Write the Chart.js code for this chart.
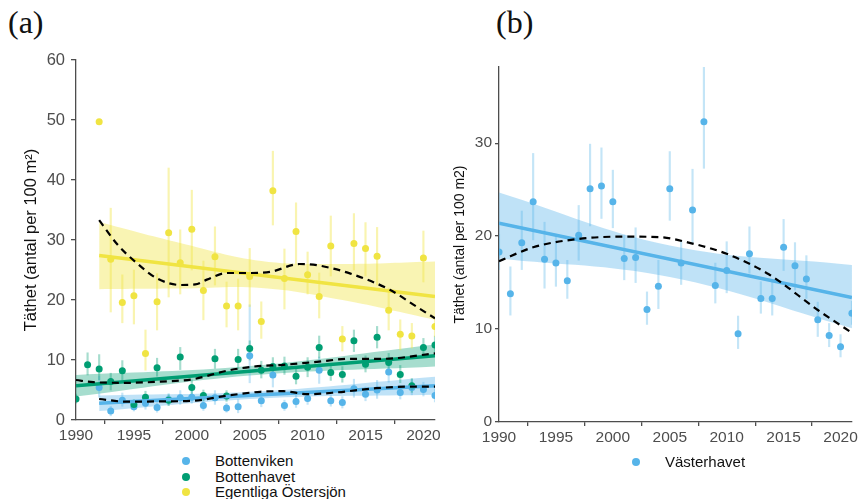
<!DOCTYPE html>
<html>
<head>
<meta charset="utf-8">
<script src="https://cdn.jsdelivr.net/npm/chart.js@4.4.1/dist/chart.umd.min.js"></script>
<style>
  body { margin: 0; width: 860px; height: 499px; overflow: hidden; background: #fff; position: relative;
         font-family: "Liberation Sans", Arial, sans-serif; }
  .panel { position: absolute; }
  .tag { position: absolute; font-family: "Liberation Serif", serif; font-size: 32px; line-height: 1; color: #111; }
  .legend { position: absolute; font-size: 15px; color: #111; }
  .legend div { height: 15.5px; line-height: 15.5px; position: relative; padding-left: 35px; white-space: nowrap; }
  .legend span { position: absolute; left: 2px; top: 4px; width: 8px; height: 8px; border-radius: 50%; }
</style>
</head>
<body>
<div class="tag" style="left:8px; top:6px;">(a)</div>
<div class="tag" style="left:496px; top:6px;">(b)</div>

<canvas id="chartA" class="panel" width="450" height="445" style="left:0; top:0;"></canvas>
<canvas id="chartB" class="panel" width="420" height="445" style="left:440px; top:2px;"></canvas>

<div class="legend" style="left:180px; top:453px;">
  <div><span style="background:#56B4E9"></span>Bottenviken</div>
  <div><span style="background:#009E73"></span>Bottenhavet</div>
  <div><span style="background:#F0E442"></span>Egentliga Östersjön</div>
</div>
<div class="legend" style="left:630px; top:454px;">
  <div><span style="background:#56B4E9"></span>Västerhavet</div>
</div>

<script>
const years = [1990, 1991, 1992, 1993, 1994, 1995, 1996, 1997, 1998, 1999, 2000, 2001, 2002, 2003, 2004, 2005,
               2006, 2007, 2008, 2009, 2010, 2011, 2012, 2013, 2014, 2015, 2016, 2017, 2018, 2019, 2020, 2021];
const xTicks = [1990, 1995, 2000, 2005, 2010, 2015, 2020];
const yTicksA = [0, 10, 20, 30, 40, 50, 60];
const yTicksB = [0, 10, 20, 30];

// Bottenviken
const bottenviken   = [null, null, 5.4, 1.5, 3.3, 2.2, 2.8, 2.1, 3.4, 3.7, 3.8, 2.4, 3.7, 2.0, 2.2, 10.7, 3.2, 7.5, 2.4, 3.1, 3.6, 8.3, 3.2, 2.9, 5.2, 4.3, 5.0, 8.0, 4.6, 5.4, 5.1, 4.1];
const bottenvikenLo = [null, null, 3.8, 0.7, 2.3, 1.5, 1.8, 1.3, 2.5, 2.6, 2.8, 1.6, 2.6, 1.3, 1.2, 6.2, 2.2, 5.5, 1.6, 2.1, 2.6, 6.1, 2.3, 2.0, 3.8, 3.2, 3.6, 6.3, 3.5, 4.2, 4.0, 3.0];
const bottenvikenHi = [null, null, 7.3, 2.3, 4.5, 3.0, 3.9, 2.9, 4.4, 4.9, 4.9, 3.3, 4.9, 2.8, 3.4, 19.2, 4.3, 9.2, 3.3, 4.2, 4.7, 10.5, 4.2, 3.9, 6.8, 5.5, 6.6, 9.8, 5.8, 6.8, 6.3, 5.2];
const bvTrendX = [1992, 2021], bvTrendY = [2.8, 5.7];
const bvBandX = [1992, 2006, 2021], bvBandLo = [1.5, 3.6, 4.2], bvBandHi = [4.1, 4.8, 7.2];
const bvSmoothX = [1992, 1994.4, 1997.3, 2000.1, 2003, 2005.9, 2007.9, 2010, 2012.5, 2015.9, 2018.6, 2021];
const bvSmoothY = [3.5, 3.05, 3.1, 3.2, 4.05, 4.7, 4.8, 4.3, 4.6, 5.3, 5.55, 5.55];

// Bottenhavet
const bottenhavet   = [3.5, 9.2, 8.5, 6.4, 8.2, 2.6, 3.8, 8.7, 3.3, 10.5, 5.4, 4.1, 10.2, 4.0, 10.1, 11.9, 8.3, 8.9, 9.0, 7.3, 8.8, 12.1, 7.9, 7.6, 13.2, 9.3, 13.8, 9.6, 7.6, 5.7, 12.1, 12.5];
const bottenhavetLo = [2.8, 7.5, 6.7, 5.0, 6.6, 1.9, 2.9, 7.3, 2.4, 8.4, 4.3, 3.2, 8.6, 3.1, 8.5, 10.0, 7.0, 7.4, 7.6, 6.0, 7.2, 10.3, 6.6, 6.3, 11.4, 8.0, 12.0, 8.2, 6.2, 4.6, 10.6, 11.0];
const bottenhavetHi = [4.3, 11.2, 10.9, 7.8, 9.9, 3.4, 4.8, 10.3, 4.2, 12.1, 6.7, 5.0, 11.8, 4.9, 11.8, 13.2, 9.8, 10.4, 10.5, 8.7, 10.4, 14.0, 9.3, 8.9, 15.0, 10.7, 15.6, 11.1, 9.1, 6.9, 13.6, 14.0];
const bhTrendX = [1990, 2021], bhTrendY = [5.7, 10.7];
const bhBandX = [1990, 2005, 2021], bhBandLo = [3.9, 7.4, 8.9], bhBandHi = [7.5, 9.0, 12.6];
const bhSmoothX = [1990, 1991.5, 1994.4, 1997.3, 2000.1, 2003, 2005.3, 2007.9, 2010.8, 2013.7, 2016.5, 2021];
const bhSmoothY = [6.67, 6.3, 6.2, 6.4, 6.8, 8.2, 8.9, 9.2, 9.7, 10.2, 10.2, 11.1];

// Egentliga Östersjön
const egentliga   = [null, null, 49.7, 26.8, 19.6, 20.7, 11.1, 19.7, 31.2, 26.2, 31.8, 21.6, 27.2, 19.0, 19.0, 23.9, 16.4, 38.2, 23.6, 31.4, 24.2, 20.6, 29.0, 13.5, 29.4, 28.6, 27.3, 18.3, 14.3, 14.0, 27.0, 15.6];
const egentligaLo = [null, null, 49.7, 18.0, 16.2, 16.0, 8.3, 15.0, 20.5, 21.0, 25.0, 16.7, 22.5, 15.5, 15.0, 18.9, 13.6, 32.5, 18.5, 26.0, 21.0, 17.0, 24.0, 11.5, 25.0, 24.0, 22.5, 15.0, 11.7, 12.0, 23.0, 13.9];
const egentligaHi = [null, null, 49.7, 35.3, 24.2, 25.0, 15.0, 24.4, 42.0, 31.7, 38.3, 26.5, 32.2, 23.0, 23.5, 28.6, 19.7, 44.8, 28.5, 36.2, 28.0, 24.5, 34.0, 15.6, 34.4, 32.9, 32.1, 22.0, 16.7, 16.1, 31.5, 17.2];
const eoTrendX = [1992, 2021], eoTrendY = [27.4, 20.6];
const eoBandX = [1992, 1999, 2006, 2013, 2021], eoBandLo = [21.8, 21.9, 22.0, 20.0, 16.7], eoBandHi = [33.0, 29.5, 26.5, 26.0, 26.4];
const eoSmoothX = [1992, 1993.6, 1995.1, 1997, 1999, 2000.3, 2001.3, 2003, 2005, 2006.8, 2009.3, 2010.8, 2013.7, 2017.1, 2019.4, 2021];
const eoSmoothY = [33.3, 29.2, 26.4, 23.6, 22.5, 22.6, 23.4, 24.5, 24.5, 24.7, 26.0, 25.8, 24.4, 21.7, 18.9, 16.95];

// Västerhavet
const vasterhavet   = [18.3, 13.8, 19.3, 23.7, 17.5, 17.1, 15.2, 20.1, 25.1, 25.4, 23.7, 17.6, 17.7, 12.1, 14.6, 25.1, 17.1, 22.8, 32.3, 14.7, 16.3, 9.5, 18.1, 13.3, 13.3, 18.8, 16.8, 15.4, 11.0, 9.3, 8.1, 11.7];
const vasterhavetLo = [16.4, 11.5, 16.4, 19.6, 14.4, 14.6, 13.3, 17.4, 21.1, 21.9, 20.9, 15.3, 15.0, 10.5, 12.2, 21.7, 14.8, 19.3, 27.3, 12.8, 13.9, 7.9, 16.0, 11.7, 11.5, 16.3, 14.2, 13.3, 9.2, 8.1, 7.0, 10.5];
const vasterhavetHi = [20.2, 16.7, 22.7, 28.9, 21.5, 20.2, 17.4, 23.3, 29.9, 29.5, 27.1, 20.1, 20.9, 14.0, 17.4, 29.1, 19.5, 27.2, 38.2, 17.1, 19.4, 11.4, 21.0, 15.1, 15.1, 21.8, 19.3, 17.9, 12.9, 10.6, 9.4, 13.0];
const vhTrendX = [1990, 2021], vhTrendY = [21.4, 13.4];
const vhBandX = [1990, 2005, 2021], vhBandLo = [17.6, 15.6, 10.1], vhBandHi = [24.7, 19.0, 16.9];
const vhSmoothX = [1990, 1993, 1997, 2001, 2004, 2007, 2010, 2013.7, 2018, 2021];
const vhSmoothY = [17.3, 18.8, 19.7, 19.95, 19.9, 19.2, 18.1, 15.9, 12.05, 9.6];

const FONT = '"Liberation Sans", Arial, sans-serif';
const AXIS = '#4d4d4d';

function pts(xs, ys) {
  return xs.map((x, i) => ({ x: x, y: ys[i] })).filter(p => p.y !== null);
}
function ranges(xs, lo, hi) {
  return xs.map((x, i) => ({ x: x, y: [lo[i], hi[i]] })).filter(p => p.y[0] !== null);
}

// one region: CI band, error bars, points, linear trend, smooth fit
function region(s) {
  return [
    { type: 'line', data: pts(s.bandX, s.bandHi), fill: '+1', backgroundColor: s.band,
      borderWidth: 0, pointRadius: 0, tension: 0.4, order: 6 },
    { type: 'line', data: pts(s.bandX, s.bandLo), fill: false,
      borderWidth: 0, pointRadius: 0, tension: 0.4, order: 6 },
    { type: 'bar', data: ranges(years, s.lo, s.hi), backgroundColor: s.err,
      barThickness: 1.5, grouped: false, order: 5 },
    { type: 'line', data: pts(years, s.values), showLine: false, pointRadius: 3.5,
      pointBackgroundColor: s.color, pointBorderWidth: 0, order: 4 },
    { type: 'line', data: pts(s.trendX, s.trendY), borderColor: s.color, borderWidth: 3.5,
      pointRadius: 0, order: 3 },
    { type: 'line', data: pts(s.smoothX, s.smoothY), borderColor: '#000', borderWidth: 2.2,
      borderDash: [7, 5], pointRadius: 0, cubicInterpolationMode: 'monotone', order: 1 }
  ];
}

function makeChart(id, datasets, cfg) {
  return new Chart(document.getElementById(id), {
    type: 'line',
    data: { datasets: datasets },
    options: {
      responsive: false,
      animation: false,
      events: [],
      layout: { padding: { top: cfg.top, right: cfg.right, left: 0, bottom: 0 } },
      plugins: { legend: { display: false }, tooltip: { enabled: false } },
      scales: {
        x: {
          type: 'linear', min: 1990, max: 2021, offset: false,
          afterBuildTicks: sc => { sc.ticks = xTicks.map(v => ({ value: v })); },
          afterFit: sc => { sc.height = 25; },
          grid: { drawOnChartArea: false, drawTicks: true, tickLength: 4, color: AXIS, lineWidth: 1.3 },
          border: { color: AXIS, width: 1.3 },
          ticks: { color: AXIS, font: { size: 15.5, family: FONT }, padding: 2, maxRotation: 0,
                   callback: v => String(v) }
        },
        y: {
          type: 'linear', min: 0, max: cfg.ymax,
          afterBuildTicks: sc => { sc.ticks = cfg.yTicks.map(v => ({ value: v })); },
          afterFit: sc => { sc.width = cfg.yWidth; },
          grid: { drawOnChartArea: false, drawTicks: true, tickLength: cfg.tickLen, color: AXIS, lineWidth: 1.3 },
          border: { color: AXIS, width: 1.3 },
          ticks: { color: AXIS, font: { size: cfg.tickSize, family: FONT }, padding: cfg.tickPad },
          title: { display: true, text: cfg.title, color: '#111',
                   font: { size: cfg.titleSize, family: FONT }, padding: { top: cfg.titlePad, bottom: 0 } }
        }
      }
    }
  });
}

const blue = { color: '#56B4E9', err: 'rgba(86,180,233,0.35)', band: 'rgba(86,180,233,0.38)' };
const green = { color: '#009E73', err: 'rgba(0,158,115,0.35)', band: 'rgba(0,158,115,0.35)' };
const yellow = { color: '#F0E442', err: 'rgba(240,228,66,0.42)', band: 'rgba(240,228,66,0.4)' };

const setsA = [].concat(
  region(Object.assign({}, yellow, { values: egentliga, lo: egentligaLo, hi: egentligaHi,
    trendX: eoTrendX, trendY: eoTrendY, bandX: eoBandX, bandLo: eoBandLo, bandHi: eoBandHi,
    smoothX: eoSmoothX, smoothY: eoSmoothY })),
  region(Object.assign({}, green, { values: bottenhavet, lo: bottenhavetLo, hi: bottenhavetHi,
    trendX: bhTrendX, trendY: bhTrendY, bandX: bhBandX, bandLo: bhBandLo, bandHi: bhBandHi,
    smoothX: bhSmoothX, smoothY: bhSmoothY })),
  region(Object.assign({}, blue, { values: bottenviken, lo: bottenvikenLo, hi: bottenvikenHi,
    trendX: bvTrendX, trendY: bvTrendY, bandX: bvBandX, bandLo: bvBandLo, bandHi: bvBandHi,
    smoothX: bvSmoothX, smoothY: bvSmoothY }))
);

const setsB = region(Object.assign({}, blue, { values: vasterhavet, lo: vasterhavetLo, hi: vasterhavetHi,
  trendX: vhTrendX, trendY: vhTrendY, bandX: vhBandX, bandLo: vhBandLo, bandHi: vhBandHi,
  smoothX: vhSmoothX, smoothY: vhSmoothY }));

makeChart('chartA', setsA, {
  top: 60, right: 15, ymax: 60, yTicks: yTicksA, yWidth: 76, tickLen: 5, tickSize: 16.5, tickPad: 6,
  title: 'Täthet (antal per 100 m²)', titleSize: 16.5, titlePad: 22
});
makeChart('chartB', setsB, {
  top: 65, right: 7, ymax: 38.2, yTicks: yTicksB, yWidth: 59, tickLen: 4, tickSize: 15.5, tickPad: 3,
  title: 'Täthet (antal per 100 m2)', titleSize: 14, titlePad: 12
});
</script>
</body>
</html>
